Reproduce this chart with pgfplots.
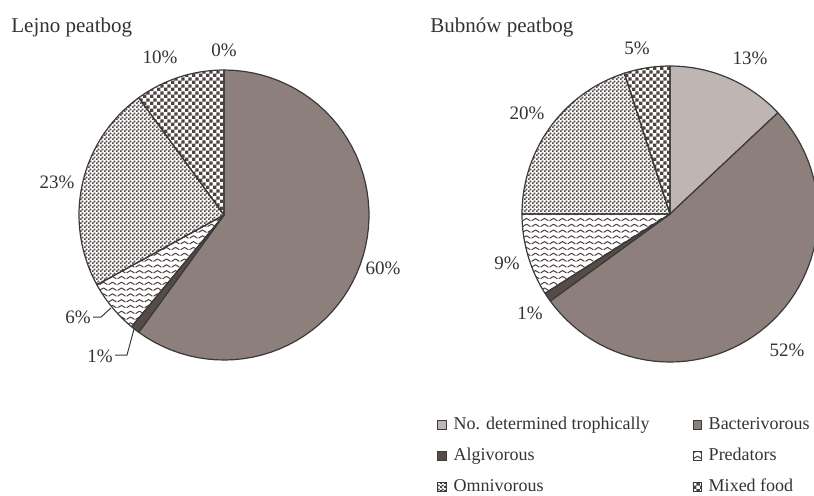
\documentclass[border=0pt]{standalone}
\usepackage{fontspec}
\setmainfont{Liberation Serif}
\usepackage{pgfplots}
\pgfplotsset{compat=1.18}
\usetikzlibrary{patterns}

\definecolor{bact}{HTML}{8C7F7C}
\definecolor{nodet}{HTML}{BFB5B3}
\definecolor{algi}{HTML}{574B48}
\definecolor{patc}{HTML}{4D4240}
\definecolor{edgec}{HTML}{3A3A3A}
\definecolor{txt}{HTML}{333333}

\pgfdeclarepatternformonly{mychecker}{\pgfpointorigin}{\pgfpoint{3.4pt}{3.4pt}}{\pgfpoint{3.4pt}{3.4pt}}{%
  \pgfpathrectangle{\pgfpointorigin}{\pgfpoint{1.7pt}{1.7pt}}%
  \pgfpathrectangle{\pgfpoint{1.7pt}{1.7pt}}{\pgfpoint{1.7pt}{1.7pt}}%
  \pgfusepath{fill}}
\pgfdeclarepatternformonly{myfine}{\pgfpointorigin}{\pgfpoint{2pt}{2pt}}{\pgfpoint{2pt}{2pt}}{%
  \pgfpathrectangle{\pgfpointorigin}{\pgfpoint{1.05pt}{1.05pt}}%
  \pgfpathrectangle{\pgfpoint{1pt}{1pt}}{\pgfpoint{1.05pt}{1.05pt}}%
  \pgfusepath{fill}}
\pgfdeclarepatternformonly{mywave}{\pgfpoint{-0.1pt}{-0.1pt}}{\pgfpoint{4.6pt}{3pt}}{\pgfpoint{4.5pt}{2.9pt}}{%
  \pgfsetlinewidth{0.5pt}%
  \pgfpathmoveto{\pgfpoint{0.3pt}{0.8pt}}%
  \pgfpathcurveto{\pgfpoint{1.2pt}{0.8pt}}{\pgfpoint{1.2pt}{2pt}}{\pgfpoint{2.25pt}{2pt}}%
  \pgfpathcurveto{\pgfpoint{3.3pt}{2pt}}{\pgfpoint{3.3pt}{0.8pt}}{\pgfpoint{4.2pt}{0.8pt}}%
  \pgfusepath{stroke}}

\tikzset{
  sl/.style={draw=edgec, line width=0.6pt, line join=round},
  nodetS/.style={fill=nodet},
  bactS/.style={fill=bact},
  algiS/.style={fill=algi},
  predS/.style={pattern=mywave, pattern color=patc},
  omniS/.style={pattern=myfine, pattern color=patc},
  mixS/.style={pattern=mychecker, pattern color=patc},
  lab/.style={font=\fontsize{9.5}{11}\selectfont, text=txt, inner sep=0pt},
}

% slice: centre x, centre y, radius, start %, end % (cumulative, clockwise from top), style
\newcommand{\slice}[6]{%
  \addplot[sl,#6,forget plot,domain={90-3.6*(#5)}:{90-3.6*(#4)},samples=60,variable=\t]
    ({#1+#3*cos(\t)},{#2-#3*sin(\t)}) -- (axis cs:#1,#2) -- cycle;}

\begin{document}
\begin{tikzpicture}
\begin{axis}[
  x=0.5pt, y=0.5pt,
  xmin=0, xmax=814, ymin=0, ymax=495,
  y dir=reverse,
  hide axis, clip=false,
  legend columns=2,
  legend cell align=left,
  legend image code/.code={\draw[#1, draw=edgec, line width=0.4pt] (0pt,-2.2pt) rectangle (4.4pt,2.2pt);},
  legend style={at={(axis cs:431,456)}, anchor=west, draw=none, fill=none,
    font=\fontsize{9}{10}\selectfont, text=txt,
    nodes={inner sep=0pt, text height=6.3pt, text depth=1.8pt},
    row sep=7.4pt, column sep=3.3pt,
    /tikz/column 2/.style={column sep=21.5pt}},
]
% legend entries
\addlegendimage{nodetS}\addlegendentry{No. determined trophically}
\addlegendimage{bactS}\addlegendentry{Bacterivorous}
\addlegendimage{algiS}\addlegendentry{Algivorous}
\addlegendimage{predS}\addlegendentry{Predators}
\addlegendimage{omniS}\addlegendentry{Omnivorous}
\addlegendimage{mixS}\addlegendentry{Mixed food}

% Lejno peatbog: 0, 60, 1, 6, 23, 10 (%)
\slice{224}{215}{145}{0}{60}{bactS}
\slice{224}{215}{145}{60}{61}{algiS}
\slice{224}{215}{145}{61}{67}{predS}
\slice{224}{215}{145}{67}{90}{omniS}
\slice{224}{215}{145}{90}{100}{mixS}

% Bubnow peatbog: 13, 52, 1, 9, 20, 5 (%)
\slice{670}{214}{148}{0}{13}{nodetS}
\slice{670}{214}{148}{13}{65}{bactS}
\slice{670}{214}{148}{65}{66}{algiS}
\slice{670}{214}{148}{66}{75}{predS}
\slice{670}{214}{148}{75}{95}{omniS}
\slice{670}{214}{148}{95}{100}{mixS}

% titles
\node[anchor=base west, font=\fontsize{10.5}{12}\selectfont, text=txt, inner sep=0pt] at (axis cs:11,32) {Lejno peatbog};
\node[anchor=base west, font=\fontsize{10.5}{12}\selectfont, text=txt, inner sep=0pt] at (axis cs:430,32) {Bubnów peatbog};

% Lejno labels
\node[lab] at (axis cs:224,50) {0\%};
\node[lab] at (axis cs:160,57) {10\%};
\node[lab] at (axis cs:57,182) {23\%};
\node[lab] at (axis cs:383,268) {60\%};
\node[lab, anchor=east] at (axis cs:91,317) {6\%};
\node[lab, anchor=east] at (axis cs:113,356) {1\%};
\draw[edgec, line width=0.5pt] (axis cs:93,317) -- (axis cs:101,317) -- (axis cs:111,308);
\draw[edgec, line width=0.5pt] (axis cs:115,355) -- (axis cs:127,355) -- (axis cs:134,329);

% Bubnow labels
\node[lab] at (axis cs:750,58) {13\%};
\node[lab] at (axis cs:637,48) {5\%};
\node[lab] at (axis cs:527,113) {20\%};
\node[lab] at (axis cs:507,263) {9\%};
\node[lab] at (axis cs:530,313) {1\%};
\node[lab] at (axis cs:787,350) {52\%};
\end{axis}
\pgfresetboundingbox
\path (current axis.south west) rectangle (current axis.north east);
\end{tikzpicture}
\end{document}
